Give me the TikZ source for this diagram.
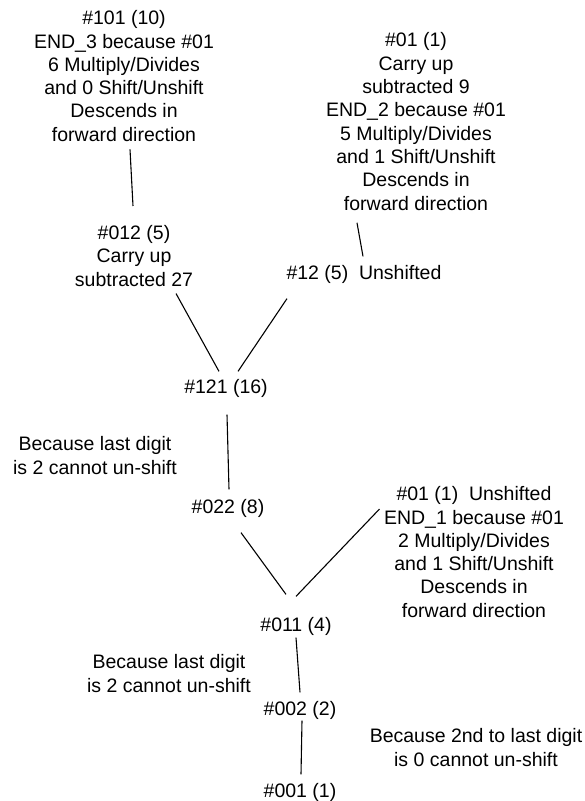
\documentclass[tikz,border=0pt]{standalone}
\usepackage{fontspec}
\setmainfont{Liberation Sans}
\usepackage{tikz}
\usetikzlibrary{arrows}

\begin{document}
\begin{tikzpicture}[-
  ,x=1pt,y=-1pt
  ,line width=1.1pt]
  \tikzstyle{lbl}=[align=center, inner sep=0pt,
  font=\fontsize{19.5pt}{23.3pt}\selectfont]

  \useasboundingbox (0,0) rectangle (585,801);

  % upper branches
  \node[lbl](n101) at (124,76) {\#101 (10)\\END\_3 because \#01\\6 Multiply/Divides\\and 0 Shift/Unshift\\Descends in\\forward direction};
  \node[lbl](n012) at (134,256) {\#012 (5)\\Carry up\\subtracted 27};
  \node[lbl](n01a) at (416,121.5) {\#01 (1)\\Carry up\\subtracted 9\\END\_2 because \#01\\5 Multiply/Divides\\and 1 Shift/Unshift\\Descends in\\forward direction};
  \node[lbl](n12) at (364,274) {\#12 (5)\hspace{0.55em}Unshifted};
  % trunk
  \node[lbl](n121) at (226,388) {\#121 (16)};
  \node[lbl](n022) at (228,508) {\#022 (8)};
  \node[lbl](n011) at (296,626) {\#011 (4)};
  \node[lbl](n002) at (300,710) {\#002 (2)};
  \node[lbl](n001) at (300,792) {\#001 (1)};
  \node[lbl](n01b) at (474,552) {\#01 (1)\hspace{0.55em}Unshifted\\END\_1 because \#01\\2 Multiply/Divides\\and 1 Shift/Unshift\\Descends in\\forward direction};
  % notes
  \node[lbl](why1) at (95,455.5) {Because last digit\\is 2 cannot un-shift};
  \node[lbl](why2) at (169,673.5) {Because last digit\\is 2 cannot un-shift};
  \node[lbl](why3) at (476,747.5) {Because 2nd to last digit\\is 0 cannot un-shift};

  \path
  ([xshift=6pt,yshift=-7.5pt]n101.south) edge ([xshift=-1pt,yshift=19pt]n012.north)
  ([xshift=-59pt,yshift=-12pt]n01a.south) edge ([xshift=-1pt,yshift=8pt]n12.north)
  ([xshift=42pt,yshift=-6.5pt]n012.south) edge ([xshift=-7pt,yshift=7pt]n121.north)
  ([xshift=-77pt,yshift=-15pt]n12.south) edge ([xshift=12pt,yshift=7pt]n121.north)
  ([xshift=1pt,yshift=-17pt]n121.south) edge ([xshift=1pt,yshift=9pt]n022.north)
  ([xshift=13pt,yshift=-15pt]n022.south) edge ([xshift=-10pt,yshift=22pt]n011.north)
  ([xshift=-4pt,yshift=-23pt]n01b.north west) edge ([yshift=20pt]n011.north)
  ([yshift=-2pt]n011.south) edge ([yshift=8pt]n002.north)
  ([xshift=2pt,yshift=-1pt]n002.south) edge ([xshift=1pt,yshift=8pt]n001.north);

\end{tikzpicture}
\end{document}
